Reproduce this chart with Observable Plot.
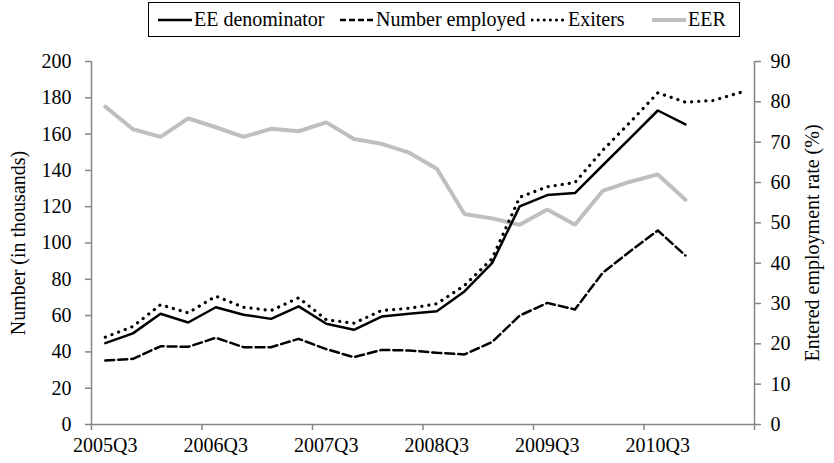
<!DOCTYPE html>
<html>
<head>
<meta charset="utf-8">
<script src="https://cdn.jsdelivr.net/npm/d3@7"></script>
<script src="https://cdn.jsdelivr.net/npm/@observablehq/plot@0.6"></script>
<style>
  html, body { margin: 0; padding: 0; background: #fff; }
  #wrap { position: relative; width: 834px; height: 463px; }
  #legend { position: absolute; left: 148px; top: 2px; width: 592px; height: 35px; border: 1px solid #000; box-sizing: border-box;
            font-size: 20px; color: #000; background: #fff; }
  .item { position: absolute; display: flex; align-items: center; top: 0; height: 33px; }
  .item svg { display: block; }
  .item span { margin-left: 1px; white-space: nowrap; }
</style>
</head>
<body>
<div id="wrap">
  <div id="chart"></div>
  <div id="legend"></div>
</div>
<script>
const quarters = ["2005Q3","2005Q4","2006Q1","2006Q2","2006Q3","2006Q4","2007Q1","2007Q2","2007Q3","2007Q4","2008Q1","2008Q2","2008Q3","2008Q4","2009Q1","2009Q2","2009Q3","2009Q4","2010Q1","2010Q2","2010Q3","2010Q4","2011Q1","2011Q2"];
// values in thousands (left axis)
const eeDenominator = [44.8, 50.2, 61, 56.2, 64.6, 60.5, 58.2, 65.1, 55.5, 52.2, 59.5, 61, 62.4, 73.3, 88.9, 120.2, 126.4, 127.5, 142.7, 157.8, 173, 165.3];
const numberEmployed = [35.3, 36.2, 43.1, 42.8, 47.8, 42.6, 42.6, 47.2, 41.5, 37.1, 41.1, 40.8, 39.5, 38.6, 45.4, 60, 67, 63.4, 83.5, 95.5, 106.9, 93.1];
const exiters = [48.1, 54, 66, 61.5, 70.7, 64.6, 62.8, 69.8, 57.7, 55.8, 62.8, 64, 66.5, 76.6, 91.3, 125.2, 131, 133.3, 151, 166.6, 182.7, 177.6, 178.5, 183];
// percent (right axis)
const eer = [78.8, 73.2, 71.3, 75.9, 73.7, 71.3, 73.3, 72.7, 74.9, 70.8, 69.6, 67.4, 63.4, 52.2, 51.1, 49.5, 53.3, 49.5, 57.9, 60.2, 62, 55.7];

const leftTicks = [0, 20, 40, 60, 80, 100, 120, 140, 160, 180, 200];
const rightTicks = [0, 10, 20, 30, 40, 50, 60, 70, 80, 90];
const labelIdx = [0, 4, 8, 12, 16, 20];
const boundaryTicks = [-0.5, 3.5, 7.5, 11.5, 15.5, 19.5, 23.5];

const k = 200 / 90;
const toRows = arr => arr.map((v, i) => ({i, v}));
const axisColor = "#868686";
const font = `"Liberation Serif", "Times New Roman", serif`;
const setFont = el => el.style.setProperty("font-family", font, "important");

const chart = Plot.plot({
  width: 834,
  height: 463,
  marginLeft: 91,
  marginRight: 80,
  marginTop: 61,
  marginBottom: 39,
  style: {fontSize: "20px", color: "#000", background: "transparent"},
  x: {type: "linear", domain: [-0.5, 23.5]},
  y: {domain: [0, 200]},
  marks: [
    Plot.line(toRows(eer), {x: "i", y: d => d.v * k, stroke: "#bfbfbf", strokeWidth: 4, strokeLinejoin: "miter"}),
    Plot.line(toRows(numberEmployed), {x: "i", y: "v", stroke: "#000", strokeWidth: 2.5, strokeDasharray: "9 4"}),
    Plot.line(toRows(exiters), {x: "i", y: "v", stroke: "#000", strokeWidth: 3.2, strokeDasharray: "0.1 7", strokeLinecap: "round"}),
    Plot.line(toRows(eeDenominator), {x: "i", y: "v", stroke: "#000", strokeWidth: 2.5}),
    Plot.ruleY([0], {stroke: axisColor, strokeWidth: 1.5}),
    Plot.ruleX([-0.5, 23.5], {stroke: axisColor, strokeWidth: 1.5}),
    Plot.axisX({ticks: boundaryTicks, tickSize: 6, tickFormat: () => "", stroke: axisColor, strokeWidth: 1.5, label: null}),
    Plot.axisX({ticks: labelIdx, tickSize: 0, tickPadding: 13, tickFormat: i => quarters[i], label: null, fill: "#000"}),
    Plot.axisY({anchor: "left", ticks: leftTicks, tickSize: 6, tickPadding: 14, stroke: axisColor, strokeWidth: 1.5, label: null, fill: "#000"}),
    Plot.axisY({anchor: "right", ticks: rightTicks.map(t => t * k), tickSize: 6, tickPadding: 10, tickFormat: d => String(Math.round(d / k)), stroke: axisColor, strokeWidth: 1.5, label: null, fill: "#000"}),
    Plot.text(["Number (in thousands)"], {frameAnchor: "left", dx: -73, rotate: -90, textAnchor: "middle", fontSize: 20, fill: "#000"}),
    Plot.text(["Entered employment rate (%)"], {frameAnchor: "right", dx: 58, rotate: -90, textAnchor: "middle", fontSize: 20, fill: "#000"})
  ]
});
setFont(chart);
chart.querySelectorAll("text, g, tspan").forEach(setFont);
document.getElementById("chart").appendChild(chart);

// legend
const legendItems = [
  {label: "EE denominator", x: 8, stroke: "#000", w: 2.5, dash: null, cap: "butt"},
  {label: "Number employed", x: 190, stroke: "#000", w: 2.5, dash: "6 3", cap: "butt"},
  {label: "Exiters", x: 382, stroke: "#000", w: 3, dash: "0.1 6", cap: "round"},
  {label: "EER", x: 502, stroke: "#bfbfbf", w: 4, dash: null, cap: "butt"}
];
const legend = document.getElementById("legend");
setFont(legend);
legendItems.forEach(it => {
  const div = document.createElement("div");
  div.className = "item";
  div.style.left = it.x + "px";
  div.innerHTML = `<svg width="36" height="10"><line x1="1" y1="5" x2="35" y2="5" stroke="${it.stroke}" stroke-width="${it.w}" ${it.dash ? `stroke-dasharray="${it.dash}"` : ""} stroke-linecap="${it.cap}"/></svg><span>${it.label}</span>`;
  legend.appendChild(div);
  div.querySelectorAll("span").forEach(setFont);
});
</script>
</body>
</html>
